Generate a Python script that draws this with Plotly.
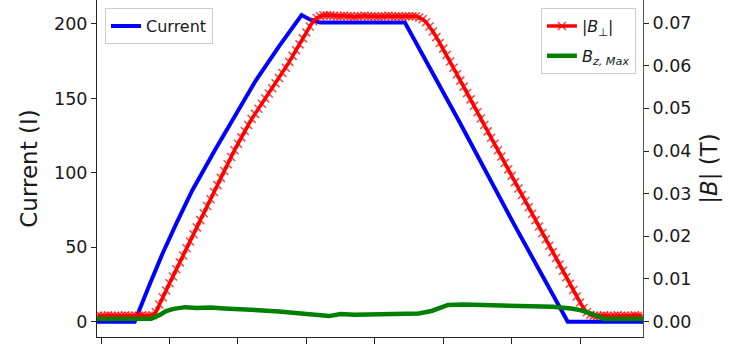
import numpy as np
import plotly.graph_objects as go

# ---- data ----
# Current (left axis)
t_current = [-0.06, 0.49, 0.7, 0.9, 1.1, 1.33, 1.66, 1.96, 2.26, 2.6, 2.93, 3.05, 3.2,
             4.44, 5.24, 6.04, 6.82, 7.92]
current = [0, 0, 24, 46, 66, 88, 115, 139, 162, 185, 206, 203, 201,
           201, 134, 65, 0, 0]

# |B_perp| (right axis), sampled every 0.05 starting at -0.05
t_b_start = -0.05
t_b_step = 0.05
b_perp = [
    0.0014, 0.0013, 0.0014, 0.0015, 0.0014, 0.0013, 0.0014, 0.0014, 0.0015, 0.0014,
    0.0013, 0.0014, 0.0014, 0.0015, 0.0014, 0.0014, 0.0015,
    0.0022, 0.0040, 0.0057, 0.0073, 0.0090, 0.0106, 0.0123, 0.0139, 0.0155, 0.0172,
    0.0188, 0.0205, 0.0221, 0.0238, 0.0254, 0.0271, 0.0287, 0.0304, 0.0320, 0.0337,
    0.0353, 0.0369, 0.0386, 0.0402, 0.0417, 0.0432, 0.0447, 0.0461, 0.0475, 0.0487,
    0.0499, 0.0511, 0.0523, 0.0535, 0.0547, 0.0559, 0.0571, 0.0583, 0.0595, 0.0609,
    0.0623, 0.0636, 0.0650, 0.0664, 0.0678, 0.0692, 0.0704, 0.0712, 0.0716, 0.0718,
    0.0718, 0.0718, 0.0717,
    0.0716, 0.0716, 0.0717, 0.0716, 0.0716, 0.0715, 0.0716, 0.0716, 0.0717, 0.0716,
    0.0716, 0.0716, 0.0715, 0.0716, 0.0716, 0.0717, 0.0716, 0.0716, 0.0716, 0.0715,
    0.0716, 0.0716, 0.0716,
    0.0716, 0.0713, 0.0709, 0.0702, 0.0692, 0.0680, 0.0667, 0.0653, 0.0640,
    0.0625, 0.0610, 0.0595, 0.0580, 0.0565, 0.0551, 0.0536, 0.0521, 0.0506, 0.0491,
    0.0476, 0.0461, 0.0446, 0.0431, 0.0417, 0.0402, 0.0387, 0.0372, 0.0357, 0.0342,
    0.0327, 0.0312, 0.0297, 0.0283, 0.0268, 0.0253, 0.0238, 0.0223, 0.0208, 0.0193,
    0.0178, 0.0163, 0.0149, 0.0134, 0.0119, 0.0104, 0.0089, 0.0074, 0.0059, 0.0045,
    0.0032, 0.0022, 0.0016, 0.0014,
    0.0013, 0.0014, 0.0015, 0.0014, 0.0013, 0.0014, 0.0015, 0.0014, 0.0014, 0.0013,
    0.0014, 0.0015, 0.0014, 0.0014,
]
t_b = [round(t_b_start + i * t_b_step, 3) for i in range(len(b_perp))]

# B_z,Max (right axis)
t_bz = [-0.06, 0.3, 0.6, 0.73, 0.85, 0.95, 1.06, 1.23, 1.4, 1.6, 1.8, 2.02, 2.3, 2.6,
        2.85, 3.05, 3.2, 3.33, 3.5, 3.7, 3.9, 4.1, 4.35, 4.64, 4.83, 4.95, 5.07, 5.3,
        5.5, 5.7, 5.8, 6.0, 6.2, 6.38, 6.6, 6.87, 7.0, 7.16, 7.3, 7.35, 7.6, 7.92]
b_z = [0.0006, 0.0006, 0.0006, 0.0007, 0.0015, 0.0025, 0.0030, 0.0034, 0.0032, 0.0033,
       0.0031, 0.0030, 0.0027, 0.0024, 0.0020, 0.0019, 0.0015, 0.0013, 0.0018, 0.0016,
       0.0017, 0.0017, 0.0018, 0.0019, 0.0025, 0.0033, 0.0039, 0.0040, 0.0039, 0.0040,
       0.0038, 0.0039, 0.0037, 0.0036, 0.0035, 0.0031, 0.0027, 0.0019, 0.0009, 0.0006,
       0.0006, 0.0006]

x_ticks = [0, 1, 2, 3, 4, 5, 6, 7]
y1_ticks = [0, 50, 100, 150, 200]
y2_ticks = [0.0, 0.01, 0.02, 0.03, 0.04, 0.05, 0.06, 0.07]
y2_ticklabels = ["0.00", "0.01", "0.02", "0.03", "0.04", "0.05", "0.06", "0.07"]

FONT = "DejaVu Sans"
AX = "#222222"

fig = go.Figure()
fig.add_trace(go.Scatter(
    x=t_current, y=current, mode="lines", name="Current",
    line=dict(color="#0000ff", width=4), legend="legend", yaxis="y"))
fig.add_trace(go.Scatter(
    x=t_b, y=b_perp, mode="lines+markers", name="|<i>B</i><sub>⊥</sub>|",
    line=dict(color="#ff0000", width=3.5),
    marker=dict(symbol="x-thin", size=8, color="#ff0000",
                line=dict(color="rgba(255,0,0,0.75)", width=1.5)),
    legend="legend2", legendgroup="b1", yaxis="y2"))
fig.add_trace(go.Scatter(
    x=t_bz, y=b_z, mode="lines", name="<i>B</i><sub><i>z, Max</i></sub>",
    line=dict(color="#008000", width=4.5), legend="legend2", legendgroup="b2",
    yaxis="y2"))

fig.update_layout(
    width=730, height=344,
    margin=dict(l=97, r=87, t=0, b=7),
    paper_bgcolor="white", plot_bgcolor="white",
    font=dict(family=FONT, color="#1a1a1a"),
    xaxis=dict(range=[-0.06, 7.92], tickvals=x_ticks, showticklabels=False,
               ticks="outside", ticklen=6, tickcolor=AX, showgrid=False, zeroline=False,
               showline=True, linecolor=AX, linewidth=1, mirror=True),
    yaxis=dict(range=[-10.29, 216.1], tickvals=y1_ticks, ticks="outside", ticklen=5,
               tickcolor=AX, tickfont=dict(size=17.5, family=FONT),
               showgrid=False, zeroline=False, showline=True, linecolor=AX, linewidth=1,
               title=dict(text="Current (I)", font=dict(size=23, family=FONT), standoff=10)),
    yaxis2=dict(range=[-0.0036, 0.0754], tickvals=y2_ticks, ticktext=y2_ticklabels,
                overlaying="y", side="right", ticks="outside", ticklen=5, tickcolor=AX,
                tickfont=dict(size=17.5, family=FONT),
                showgrid=False, zeroline=False, showline=True, linecolor="#555555", linewidth=1,
                title=dict(text="|<i>B</i>| (T)", font=dict(size=23, family=FONT), standoff=10)),
    legend=dict(x=0.0147, y=0.976, xanchor="left", yanchor="top",
                bgcolor="rgba(255,255,255,0.8)", bordercolor="#cccccc", borderwidth=1,
                font=dict(size=16, family=FONT)),
    legend2=dict(x=0.987, y=0.976, xanchor="right", yanchor="top",
                 bgcolor="rgba(255,255,255,0.8)", bordercolor="#cccccc", borderwidth=1,
                 tracegroupgap=6,
                 font=dict(size=16, family=FONT)),
    showlegend=True,
)

fig.write_html("out.html")
